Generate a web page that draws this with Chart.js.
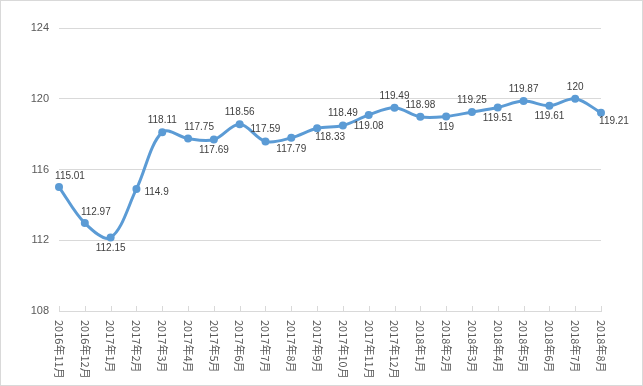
<!DOCTYPE html>
<html>
<head>
<meta charset="utf-8">
<script src="https://cdn.jsdelivr.net/npm/chart.js@4/dist/chart.umd.min.js"></script>
<style>
  html, body { margin: 0; padding: 0; background: #fff; }
  #wrap { width: 641px; height: 384px; border: 1px solid #d9d9d9; }
</style>
</head>
<body>
<div id="wrap"><canvas id="chart" width="641" height="384"></canvas></div>
<script>
const months = ['2016年11月', '2016年12月', '2017年1月', '2017年2月', '2017年3月', '2017年4月',
  '2017年5月', '2017年6月', '2017年7月', '2017年8月', '2017年9月', '2017年10月', '2017年11月',
  '2017年12月', '2018年1月', '2018年2月', '2018年3月', '2018年4月', '2018年5月', '2018年6月',
  '2018年7月', '2018年8月'];
const values = [115.01, 112.97, 112.15, 114.9, 118.11, 117.75, 117.69, 118.56, 117.59, 117.79,
  118.33, 118.49, 119.08, 119.49, 118.98, 119, 119.25, 119.51, 119.87, 119.61, 120, 119.21];
const yTicks = [108, 112, 116, 120, 124];

// where each data label sits relative to its point (style only)
const labelPlace = ['ar', 'ar', 'b', 'r', 'a', 'ar', 'b', 'a', 'a', 'b', 'br',
  'a', 'b', 'a', 'a', 'b', 'a', 'b', 'a', 'b', 'a', 'br'];

const textColor = '#595959';
const lineColor = '#5b9bd5';

const labelsPlugin = {
    id: 'customLabels',
    afterDatasetsDraw(chart) {
        const c = chart.ctx;
        const meta = chart.getDatasetMeta(0);
        c.save();
        c.font = '10px "Liberation Sans", Arial, sans-serif';
        c.fillStyle = '#404040';
        c.textBaseline = 'middle';
        meta.data.forEach((pt, i) => {
            const txt = String(values[i]);
            let x = pt.x, y = pt.y;
            c.textAlign = 'center';
            switch (labelPlace[i]) {
                case 'a': y -= 12; break;
                case 'ar': x += 11; y -= 11; break;
                case 'b': y += 11; break;
                case 'br': x += 13; y += 9; break;
                case 'r': x += 8; y += 3; c.textAlign = 'left'; break;
            }
            c.fillText(txt, x, y);
        });
        c.restore();
    },
    afterDraw(chart) {
        const c = chart.ctx;
        const xs = chart.scales.x;
        const bottom = chart.chartArea.bottom;
        c.save();
        // inside tick marks
        c.strokeStyle = '#d9d9d9';
        c.lineWidth = 1;
        for (let i = 0; i < months.length; i++) {
            const x = Math.round(xs.getPixelForValue(i)) + 0.5;
            c.beginPath();
            c.moveTo(x, bottom - 5);
            c.lineTo(x, bottom);
            c.stroke();
        }
        // category labels, rotated clockwise
        c.font = '11px "Noto Sans CJK SC", sans-serif';
        c.fillStyle = textColor;
        c.textAlign = 'left';
        c.textBaseline = 'middle';
        months.forEach((m, i) => {
            const x = xs.getPixelForValue(i);
            c.save();
            c.translate(x, bottom + 9);
            c.rotate(Math.PI / 2);
            c.fillText(m, 0, 0);
            c.restore();
        });
        c.restore();
    }
};

new Chart(document.getElementById('chart').getContext('2d'), {
    type: 'line',
    data: {
        labels: months,
        datasets: [{
            data: values,
            borderColor: lineColor,
            backgroundColor: lineColor,
            borderWidth: 3,
            pointRadius: 4,
            pointBackgroundColor: lineColor,
            pointBorderWidth: 0,
            tension: 0.35,
            fill: false
        }]
    },
    options: {
        responsive: false,
        animation: false,
        layout: { padding: { top: 27, right: 41, left: 0, bottom: 0 } },
        plugins: { legend: { display: false }, tooltip: { enabled: false } },
        scales: {
            x: {
                offset: false,
                ticks: { display: false },
                grid: { display: false },
                border: { display: true, color: '#d9d9d9' },
                afterFit: s => { s.height = 74; }
            },
            y: {
                min: 108,
                max: 124,
                afterBuildTicks: s => { s.ticks = yTicks.map(v => ({ value: v })); },
                ticks: {
                    color: textColor,
                    padding: 10,
                    font: { family: '"Liberation Sans", Arial, sans-serif', size: 11 }
                },
                grid: { color: '#d9d9d9', drawTicks: false },
                border: { display: false },
                afterFit: s => { s.width = 58; }
            }
        }
    },
    plugins: [labelsPlugin]
});
</script>
</body>
</html>
